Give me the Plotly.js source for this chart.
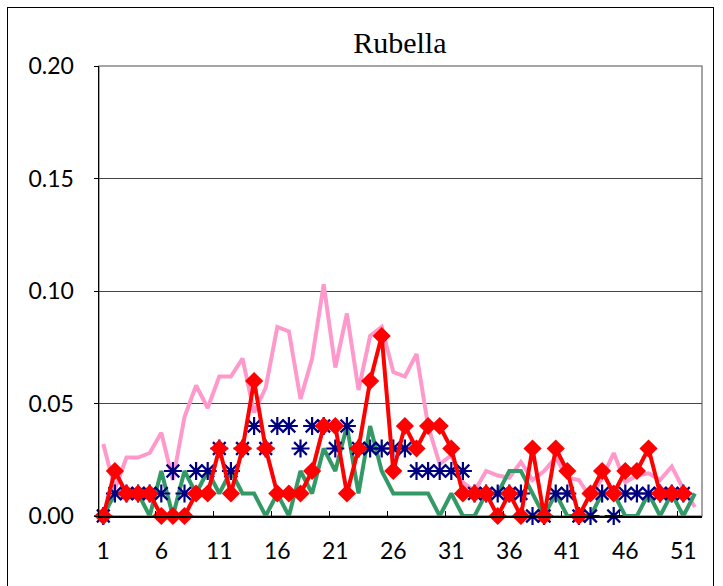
<!DOCTYPE html>
<html>
<head>
<meta charset="utf-8">
<script src="https://cdn.plot.ly/plotly-3.0.1.min.js"></script>
<style>
html,body{margin:0;padding:0;background:#fff;}
#wrap{position:relative;width:723px;height:586px;overflow:hidden;}
#chart{width:723px;height:586px;}
#frame{position:absolute;left:7px;top:7px;width:705px;height:600px;border:1.5px solid #000;pointer-events:none;}
</style>
</head>
<body>
<div id="wrap"><div id="chart"></div><div id="frame"></div></div>
<script>
var weeks = [];
for (var i = 1; i <= 52; i++) weeks.push(i);

var pinkSeries = [0.032,0.012,0.026,0.026,0.028,0.037,0.016,0.044,0.058,0.048,
  0.062,0.062,0.070,0.046,0.057,0.084,0.082,0.052,0.070,0.103,
  0.066,0.090,0.056,0.080,0.084,0.064,0.062,0.072,0.040,0.023,
  0.027,0.015,0.011,0.020,0.018,0.017,0.024,0.016,0.020,0.026,
  0.017,0.016,0.008,0.017,0.028,0.015,0.018,0.019,0.016,0.022,
  0.012,0.004];

var greenSeries = [0,0.01,0.01,0.01,0,0.02,0,0.02,0.01,0.02,
  0.01,0.02,0.01,0.01,0,0.01,0,0.02,0.01,0.03,
  0.02,0.04,0.01,0.04,0.02,0.01,0.01,0.01,0.01,0,
  0.01,0,0,0.01,0.01,0.02,0.02,0.01,0,0.01,
  0,0,0,0.01,0.01,0,0,0.01,0,0.01,
  0,0.01];

var blueSeries = [0,0.01,0.01,0.01,0.01,0.01,0.02,0.01,0.02,0.02,
  0.03,0.02,0.03,0.04,0.03,0.04,0.04,0.03,0.04,0.04,
  0.03,0.04,0.03,0.03,0.03,0.03,0.03,0.02,0.02,0.02,
  0.02,0.02,0.01,0.01,0.01,0.01,0.01,0,0,0.01,
  0.01,0,0,0.01,0,0.01,0.01,0.01,0.01,0.01,
  0.01];

var redSeries = [0,0.02,0.01,0.01,0.01,0,0,0,0.01,0.01,
  0.03,0.01,0.03,0.06,0.03,0.01,0.01,0.01,0.02,0.04,
  0.04,0.01,0.03,0.06,0.08,0.02,0.04,0.03,0.04,0.04,
  0.03,0.01,0.01,0.01,0,0.01,0,0.03,0,0.03,
  0.02,0,0.01,0.02,0.01,0.02,0.02,0.03,0.01,0.01,
  0.01];

var xTickVals = [1,6,11,16,21,26,31,36,41,46,51];
var xTickText = ['1','6','11','16','21','26','31','36','41','46','51'];
var xTickMarks = [0.5,5.5,10.5,15.5,20.5,25.5,30.5,35.5,40.5,45.5,50.5];
var yTickVals = [0,0.05,0.10,0.15,0.20];
var yTickText = ['0.00','0.05','0.10','0.15','0.20'];

var xRange = [0.63, 52.61];
var tickFont = {family:'Lato, "Open Sans", sans-serif', size:23, color:'#000'};

var traces = [
  {x:weeks, y:pinkSeries, type:'scatter', mode:'lines', line:{color:'#FF99CC', width:4}, cliponaxis:false, hoverinfo:'none'},
  {x:weeks, y:greenSeries, type:'scatter', mode:'lines', line:{color:'#339966', width:4}, cliponaxis:false, hoverinfo:'none'},
  {x:weeks.slice(0, blueSeries.length), y:blueSeries, type:'scatter', mode:'markers',
    marker:{symbol:'asterisk-open', size:15, color:'#000080', line:{color:'#000080', width:2.2}}, cliponaxis:false, hoverinfo:'none'},
  {x:weeks.slice(0, redSeries.length), y:redSeries, type:'scatter', mode:'lines+markers',
    line:{color:'#FF0000', width:4}, marker:{symbol:'diamond', size:14, color:'#FF0000'}, cliponaxis:false, hoverinfo:'none'},
  {x:[xRange[0]], y:[0], xaxis:'x2', type:'scatter', mode:'markers', marker:{opacity:0}, hoverinfo:'none', showlegend:false}
];

var layout = {
  width:723, height:586,
  margin:{l:99, r:21, t:66, b:70},
  paper_bgcolor:'#fff', plot_bgcolor:'#fff',
  showlegend:false,
  title:{text:'Rubella', font:{family:'"Liberation Serif", "DejaVu Serif", serif', size:30, color:'#000'}, x:0.553, xanchor:'center', y:0.928, yanchor:'middle'},
  xaxis:{range:xRange, tickmode:'array', tickvals:xTickVals, ticktext:xTickText, ticks:'', showgrid:false, zeroline:false,
    showline:true, linecolor:'#000', linewidth:1.5, tickfont:tickFont, ticklabelstandoff:14, fixedrange:true},
  xaxis2:{range:xRange, overlaying:'x', tickmode:'array', tickvals:xTickMarks, ticks:'inside', ticklen:5, tickcolor:'#000', tickwidth:1,
    showticklabels:false, showgrid:false, zeroline:false, showline:false, fixedrange:true},
  yaxis:{range:[0,0.2], tickmode:'array', tickvals:yTickVals, ticktext:yTickText, ticks:'outside', ticklen:4, tickcolor:'#000',
    showgrid:true, gridcolor:'#444', gridwidth:1, zeroline:false, showline:true, linecolor:'#000', linewidth:1.5,
    tickfont:tickFont, ticklabelstandoff:15, fixedrange:true},
  shapes:[{type:'rect', xref:'paper', yref:'paper', x0:0, x1:1, y0:0, y1:1, line:{color:'#888', width:1.5}, layer:'below'}]
};

Plotly.newPlot('chart', traces, layout, {staticPlot:true, displayModeBar:false});
</script>
</body>
</html>
